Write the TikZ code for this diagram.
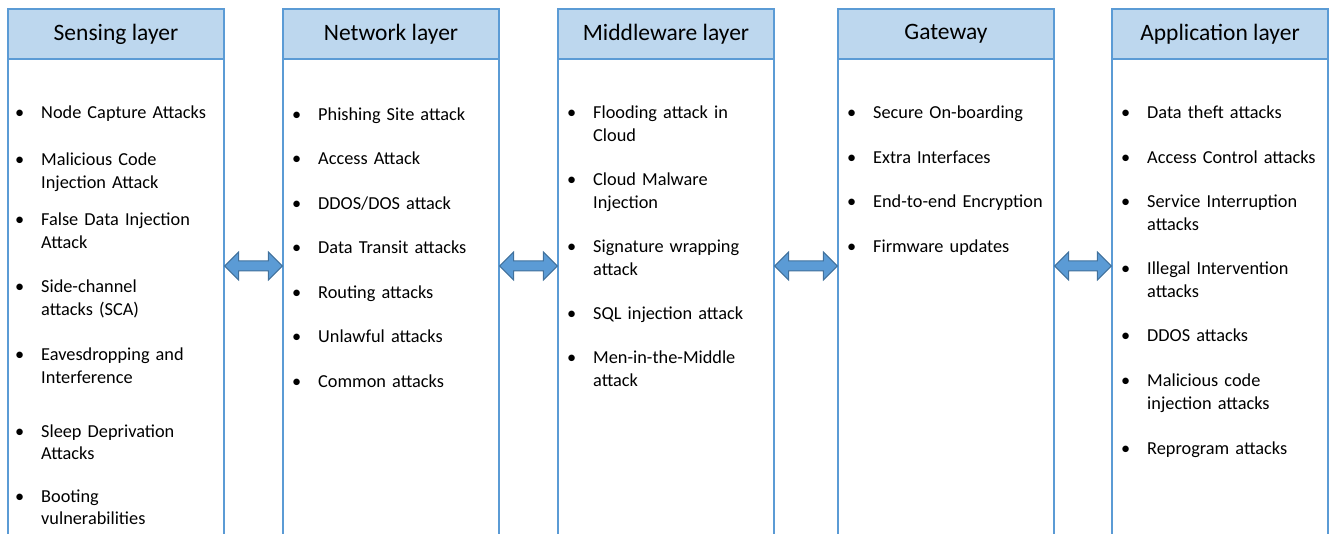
\documentclass[tikz,border=0pt]{standalone}
\usepackage{fontspec}
\setmainfont{Carlito}
\usetikzlibrary{calc}

\definecolor{hdrfill}{HTML}{BDD7EE}
\definecolor{boxline}{HTML}{5B9BD5}
\definecolor{arrfill}{HTML}{5B9BD5}
\definecolor{arrline}{HTML}{41719C}

\begin{document}
\begin{tikzpicture}[x=1pt, y=-1pt]
			\tikzset{hdr/.style={rectangle, draw=boxline, fill=hdrfill, line width=1.3pt,
						minimum width=216pt, minimum height=50pt, inner sep=0pt,
						font=\fontsize{23.5}{28}\selectfont}}
			\tikzset{body/.style={rectangle, draw=boxline, fill=white, line width=1.3pt,
						minimum width=216pt, minimum height=486pt, inner sep=0pt}}
			\tikzset{item/.style={anchor=base west, inner sep=0pt, text width=185pt,
						align=left, font=\fontsize{18.3}{22.3}\selectfont}}
			\tikzset{dyarrow/.style={draw=arrline, fill=arrfill, line width=1pt, line join=miter}}
			\newcommand{\bul}{\llap{\textbullet\hspace{17pt}}}
			% block arrow between the east side of #1 and the west side of #2
			\newcommand{\dylink}[2]{\draw[dyarrow] let \p1=($(#1.east)+(0,-36)$),
				\p2=($(#2.west)+(0,-36)$) in (\x1,\y1) -- (\x1+14pt,\y1+14pt)
				-- (\x1+14pt,\y1+5pt) -- (\x2-14pt,\y1+5pt) -- (\x2-14pt,\y1+14pt)
				-- (\x2,\y1) -- (\x2-14pt,\y1-14pt) -- (\x2-14pt,\y1-5pt)
				-- (\x1+14pt,\y1-5pt) -- (\x1+14pt,\y1-14pt) -- cycle;}

			\useasboundingbox (0,0) rectangle (1333,534);
			\clip (0,0) rectangle (1333,534);

			% columns
			\node[body] (bodyA) at (116,302) {};
			\node[body] (bodyB) at (391,302) {};
			\node[body] (bodyC) at (666,302) {};
			\node[body] (bodyD) at (946,302) {};
			\node[body] (bodyE) at (1220,302) {};

			\node[hdr] (hdrA) at (116,34) {\raisebox{-2pt}{Sensing layer}};
			\node[hdr] (hdrB) at (391,34) {\raisebox{-2pt}{Network layer}};
			\node[hdr] (hdrC) at (666,34) {Middleware layer};
			\node[hdr] (hdrD) at (946,34) {Gateway};
			\node[hdr] (hdrE) at (1220,34) {Application layer};

			% sensing layer
			\node[item] (a1) at (41,119) {\bul Node Capture Attacks};
			\node[item] (a2) at (41,166) {\bul Malicious Code\\Injection Attack};
			\node[item] (a3) at (41,226) {\bul False Data Injection\\Attack};
			\node[item] (a4) at (41,293) {\bul Side-channel\\attacks (SCA)};
			\node[item] (a5) at (41,361) {\bul Eavesdropping and\\Interference};
			\node[item] (a6) at (41,437) {\bul Sleep Deprivation\\Attacks};
			\node[item] (a7) at (41,502) {\bul Booting\\vulnerabilities};

			% network layer
			\node[item] (b1) at (318,121) {\bul Phishing Site attack};
			\node[item] (b2) at (318,165) {\bul Access Attack};
			\node[item] (b3) at (318,210) {\bul DDOS/DOS attack};
			\node[item] (b4) at (318,254) {\bul Data Transit attacks};
			\node[item] (b5) at (318,299) {\bul Routing attacks};
			\node[item] (b6) at (318,343) {\bul Unlawful attacks};
			\node[item] (b7) at (318,388) {\bul Common attacks};

			% middleware layer
			\node[item] (c1) at (593,119) {\bul Flooding attack in\\Cloud};
			\node[item] (c2) at (593,186) {\bul Cloud Malware\\Injection};
			\node[item] (c3) at (593,253) {\bul Signature wrapping\\attack};
			\node[item] (c4) at (593,320) {\bul SQL injection attack};
			\node[item] (c5) at (593,364) {\bul Men-in-the-Middle\\attack};

			% gateway
			\node[item] (d1) at (873,119) {\bul Secure On-boarding};
			\node[item] (d2) at (873,164) {\bul Extra Interfaces};
			\node[item] (d3) at (873,208) {\bul End-to-end Encryption};
			\node[item] (d4) at (873,253) {\bul Firmware updates};

			% application layer
			\node[item] (e1) at (1147,119) {\bul Data theft attacks};
			\node[item] (e2) at (1147,164) {\bul Access Control attacks};
			\node[item] (e3) at (1147,208) {\bul Service Interruption\\attacks};
			\node[item] (e4) at (1147,275) {\bul Illegal Intervention\\attacks};
			\node[item] (e5) at (1147,342) {\bul DDOS attacks};
			\node[item] (e6) at (1147,387) {\bul Malicious code\\injection attacks};
			\node[item] (e7) at (1147,454) {\bul Reprogram attacks};

			% links between layers
			\dylink{bodyA}{bodyB}
			\dylink{bodyB}{bodyC}
			\dylink{bodyC}{bodyD}
			\dylink{bodyD}{bodyE}
		\end{tikzpicture}
\end{document}
